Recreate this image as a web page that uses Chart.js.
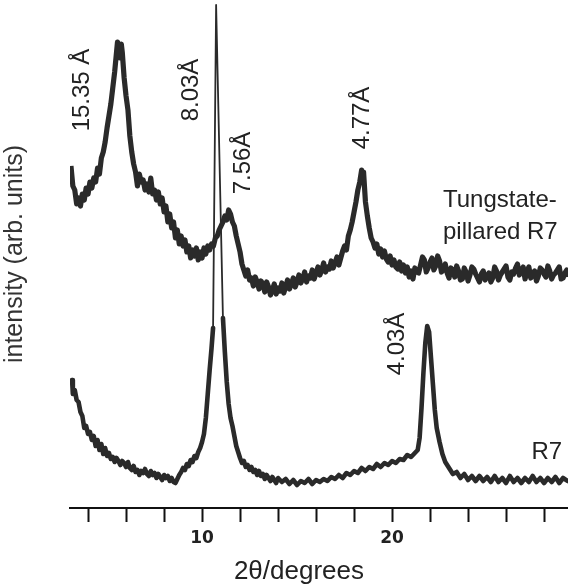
<!DOCTYPE html>
<html>
<head>
<meta charset="utf-8">
<script src="https://cdn.jsdelivr.net/npm/chart.js@4.4.0/dist/chart.umd.min.js"></script>
<style>
  html, body { margin: 0; padding: 0; background: #fff; }
  #wrap { width: 568px; height: 586px; }
</style>
</head>
<body>
<div id="wrap"><canvas id="xrd" width="568" height="586"></canvas></div>
<script>
// 2theta range shown on the axis (degrees)
const X_MIN = 3.05;
const X_MAX = 29.26;
const TICK_VALUES = [4, 6, 8, 10, 12, 14, 16, 18, 20, 22, 24, 26, 28];
const TICK_LABELED = [10, 20];

// Tungstate-pillared R7 (upper trace), intensity in arb. units
const tpAngle = [3.1, 3.2, 3.3, 3.4, 3.5, 3.6, 3.7, 3.8, 3.9, 4.0, 4.1, 4.2, 4.3, 4.4, 4.5, 4.6, 4.7, 4.8, 4.9, 5.0,
  5.1, 5.2, 5.3, 5.4, 5.5, 5.55, 5.6, 5.7, 5.75, 5.8, 5.9, 6.0, 6.1, 6.2, 6.3, 6.4, 6.5, 6.6, 6.7, 6.8,
  6.9, 7.0, 7.1, 7.2, 7.3, 7.4, 7.5, 7.6, 7.7, 7.8, 7.9, 8.0, 8.1, 8.2, 8.3, 8.4, 8.5, 8.6, 8.7, 8.8,
  8.9, 9.0, 9.1, 9.2, 9.3, 9.4, 9.5, 9.6, 9.7, 9.8, 9.9, 10.0, 10.1, 10.2, 10.3, 10.4, 10.5, 10.6, 10.7, 10.8,
  10.9, 11.0, 11.1, 11.2, 11.3, 11.4, 11.5, 11.6, 11.7, 11.8, 11.9, 12.0, 12.1, 12.2, 12.3, 12.4, 12.5, 12.6, 12.7, 12.8,
  12.9, 13.0, 13.1, 13.2, 13.3, 13.4, 13.5, 13.6, 13.7, 13.8, 13.9, 14.0, 14.1, 14.2, 14.3, 14.4, 14.5, 14.6, 14.7, 14.8,
  14.9, 15.0, 15.1, 15.2, 15.3, 15.4, 15.5, 15.6, 15.7, 15.8, 15.9, 16.0, 16.1, 16.2, 16.3, 16.4, 16.5, 16.6, 16.7, 16.8,
  16.9, 17.0, 17.1, 17.2, 17.3, 17.4, 17.5, 17.6, 17.7, 17.8, 17.9, 18.0, 18.1, 18.2, 18.3, 18.4, 18.45, 18.5, 18.6, 18.7,
  18.8, 18.9, 19.0, 19.1, 19.2, 19.3, 19.4, 19.5, 19.6, 19.7, 19.8, 19.9, 20.0, 20.1, 20.2, 20.3, 20.4, 20.5, 20.6, 20.7,
  20.8, 20.9, 21.0, 21.1, 21.2, 21.3, 21.4, 21.5, 21.6, 21.7, 21.8, 21.9, 22.0, 22.1, 22.2, 22.3, 22.4, 22.5, 22.6, 22.7,
  22.8, 22.9, 23.0, 23.1, 23.2, 23.3, 23.4, 23.5, 23.6, 23.7, 23.8, 23.9, 24.0, 24.1, 24.2, 24.3, 24.4, 24.5, 24.6, 24.7,
  24.8, 24.9, 25.0, 25.1, 25.2, 25.3, 25.4, 25.5, 25.6, 25.7, 25.8, 25.9, 26.0, 26.1, 26.2, 26.3, 26.4, 26.5, 26.6, 26.7,
  26.8, 26.9, 27.0, 27.1, 27.2, 27.3, 27.4, 27.5, 27.6, 27.7, 27.8, 27.9, 28.0, 28.1, 28.2, 28.3, 28.4, 28.5, 28.6, 28.7,
  28.8, 28.9, 29.0, 29.1, 29.2, 29.25];
const tpIntensity = [342, 322, 318, 304, 310, 302, 314, 308, 320, 314, 326, 320, 330, 326, 340, 334, 350, 356, 366, 380,
  392, 404, 420, 436, 456, 466, 462, 450, 464, 456, 430, 412, 398, 372, 356, 344, 336, 322, 334, 326,
  328, 318, 324, 316, 330, 314, 318, 308, 316, 304, 310, 296, 302, 286, 294, 280, 286, 270, 278, 264,
  272, 262, 268, 256, 262, 250, 258, 252, 260, 248, 256, 250, 260, 254, 262, 258, 264, 262, 270, 272,
  278, 282, 286, 292, 288, 298, 294, 286, 282, 272, 264, 256, 244, 238, 232, 238, 228, 230, 222, 231,
  226, 219, 227, 224, 216, 226, 221, 213, 218, 224, 214, 220, 217, 225, 215, 221, 228, 219, 224, 230,
  221, 226, 233, 225, 229, 236, 226, 232, 230, 238, 229, 235, 241, 233, 238, 245, 236, 241, 239, 247,
  240, 245, 251, 243, 250, 257, 262, 258, 272, 278, 286, 296, 306, 318, 326, 338, 330, 336, 306, 292,
  280, 270, 266, 260, 264, 254, 259, 251, 257, 249, 246, 252, 243, 248, 241, 239, 246, 237, 243, 235,
  241, 231, 237, 229, 240, 236, 235, 243, 251, 248, 236, 240, 246, 250, 238, 242, 252, 247, 236, 238,
  244, 235, 230, 240, 238, 231, 242, 237, 228, 229, 240, 236, 227, 233, 241, 239, 234, 230, 226, 234,
  237, 228, 232, 235, 226, 230, 241, 237, 228, 233, 236, 239, 242, 231, 228, 236, 234, 240, 244, 233,
  237, 241, 229, 236, 241, 230, 235, 237, 227, 232, 240, 238, 234, 231, 242, 237, 229, 233, 235, 238,
  241, 229, 230, 235, 238, 231];

// R7 (lower trace)
const r7Angle = [3.16, 3.2, 3.3, 3.4, 3.5, 3.6, 3.7, 3.8, 3.9, 4.0, 4.1, 4.2, 4.3, 4.4, 4.5, 4.6, 4.7, 4.8, 4.9, 5.0,
  5.1, 5.2, 5.3, 5.4, 5.5, 5.6, 5.7, 5.8, 5.9, 6.0, 6.1, 6.2, 6.3, 6.4, 6.5, 6.6, 6.7, 6.8, 6.9, 7.0,
  7.1, 7.2, 7.3, 7.4, 7.5, 7.6, 7.7, 7.8, 7.9, 8.0, 8.1, 8.2, 8.3, 8.4, 8.5, 8.6, 8.7, 8.8, 8.9, 9.0,
  9.1, 9.2, 9.3, 9.4, 9.5, 9.6, 9.7, 9.8, 9.9, 10.0, 10.1, 10.2, 10.3, 10.4, 10.5, 10.58, 10.74, 11.1, 11.2, 11.3,
  11.4, 11.5, 11.6, 11.7, 11.8, 11.9, 12.0, 12.1, 12.2, 12.3, 12.4, 12.5, 12.6, 12.7, 12.8, 12.9, 13.0, 13.1, 13.2, 13.3,
  13.4, 13.5, 13.6, 13.7, 13.8, 13.9, 14.0, 14.2, 14.4, 14.6, 14.8, 15.0, 15.2, 15.4, 15.6, 15.8, 16.0, 16.2, 16.4, 16.6,
  16.8, 17.0, 17.2, 17.4, 17.6, 17.8, 18.0, 18.2, 18.4, 18.6, 18.8, 19.0, 19.2, 19.4, 19.6, 19.8, 20.0, 20.2, 20.4, 20.6,
  20.8, 21.0, 21.2, 21.35, 21.45, 21.55, 21.65, 21.75, 21.85, 21.95, 22.05, 22.15, 22.25, 22.35, 22.5, 22.65, 22.8, 23.0, 23.2, 23.4,
  23.6, 23.8, 24.0, 24.2, 24.4, 24.6, 24.8, 25.0, 25.2, 25.4, 25.6, 25.8, 26.0, 26.2, 26.4, 26.6, 26.8, 27.0, 27.2, 27.4,
  27.6, 27.8, 28.0, 28.2, 28.4, 28.6, 28.8, 29.0, 29.25];
const r7Intensity = [128, 114, 118, 108, 106, 96, 92, 80, 82, 74, 76, 68, 72, 62, 68, 58, 64, 54, 60, 52,
  55, 49, 51, 46, 50, 47, 43, 47, 45, 41, 46, 40, 38, 42, 36, 38, 33, 37, 35, 39,
  34, 32, 37, 33, 35, 30, 34, 31, 28, 33, 30, 32, 27, 30, 26, 25, 29, 33, 36, 40,
  38, 44, 42, 48, 46, 52, 50, 56, 60, 66, 74, 90, 114, 138, 160, 180, 503, 190, 156, 126,
  104, 90, 82, 72, 62, 56, 50, 45, 47, 41, 43, 38, 41, 36, 38, 33, 37, 32, 34, 29,
  33, 30, 27, 31, 28, 25, 30, 26, 29, 24, 28, 23, 27, 25, 29, 24, 28, 26, 29, 27,
  31, 29, 33, 30, 35, 33, 37, 35, 40, 37, 41, 39, 44, 41, 45, 43, 47, 45, 49, 48,
  53, 51, 55, 58, 70, 100, 135, 165, 182, 176, 150, 124, 98, 80, 66, 54, 46, 40, 34, 36,
  30, 34, 28, 32, 27, 32, 27, 31, 26, 32, 26, 30, 25, 32, 26, 30, 25, 30, 26, 32,
  26, 30, 25, 30, 26, 31, 25, 30, 27];

// peak annotations (d-spacings), anchored in data coordinates
const peakText = ['15.35 Å', '8.03Å', '7.56Å', '4.77Å', '4.03Å'];
const peakAngle = [3.68, 9.42, 12.16, 18.42, 20.26];
const peakLevel = [418, 418, 345, 390, 164];

const traceNames = ['Tungstate-pillared R7', 'R7'];

const INK = '#2a2a2a';
const TEXT_FONT = '"Liberation Sans", Arial, sans-serif';

function toPoints(xs, ys) {
  return xs.map((x, i) => ({ x: x, y: ys[i] }));
}

// thin strokes on the steep flanks of the sharp 8.03 Å reflection
const spikeWidth = ctx => (Math.abs(ctx.p1.parsed.y - ctx.p0.parsed.y) > 150 ? 1.8 : 4.6);

const labelPlugin = {
  id: 'labels',
  afterDraw(chart) {
    const ctx = chart.ctx;
    const xs = chart.scales.x, ys = chart.scales.y;
    ctx.save();
    ctx.fillStyle = '#222';
    ctx.font = '24px ' + TEXT_FONT;
    ctx.textAlign = 'center';
    ctx.textBaseline = 'middle';
    peakText.forEach((t, i) => {
      ctx.save();
      ctx.translate(xs.getPixelForValue(peakAngle[i]), ys.getPixelForValue(peakLevel[i]));
      ctx.rotate(-Math.PI / 2);
      ctx.fillText(t, 0, 0);
      ctx.restore();
    });
    // trace names
    ctx.textAlign = 'left';
    ctx.fillText('Tungstate-', xs.getPixelForValue(22.68), ys.getPixelForValue(308));
    ctx.fillText('pillared R7', xs.getPixelForValue(22.68), ys.getPixelForValue(276));
    ctx.textAlign = 'right';
    ctx.fillText('R7', xs.getPixelForValue(28.95), ys.getPixelForValue(56));
    // x axis title
    ctx.textAlign = 'center';
    ctx.font = '26px ' + TEXT_FONT;
    ctx.fillText('2θ/degrees', xs.getPixelForValue(15.1), 572);
    ctx.restore();
  }
};

new Chart(document.getElementById('xrd'), {
  type: 'line',
  data: {
    datasets: [
      {
        label: traceNames[0],
        data: toPoints(tpAngle, tpIntensity),
        borderColor: INK,
        borderWidth: 5.2,
        borderJoinStyle: 'round',
        pointRadius: 0,
        tension: 0
      },
      {
        label: traceNames[1],
        data: toPoints(r7Angle, r7Intensity),
        borderColor: INK,
        borderWidth: 4.6,
        borderJoinStyle: 'round',
        borderCapStyle: 'round',
        pointRadius: 0,
        tension: 0,
        segment: { borderWidth: spikeWidth }
      }
    ]
  },
  options: {
    responsive: false,
    animation: false,
    devicePixelRatio: 1,
    layout: { padding: 0 },
    plugins: {
      legend: { display: false },
      tooltip: { enabled: false }
    },
    scales: {
      x: {
        type: 'linear',
        min: X_MIN,
        max: X_MAX,
        afterBuildTicks: s => { s.ticks = TICK_VALUES.map(v => ({ value: v })); },
        afterFit: s => { s.height = 78; },
        border: { display: true, color: '#111', width: 2 },
        grid: { drawOnChartArea: false, drawTicks: true, tickLength: 14, tickWidth: 2, tickColor: '#111' },
        ticks: {
          color: '#222',
          padding: 6,
          maxRotation: 0,
          autoSkip: false,
          font: { family: '"DejaVu Sans"', weight: 'bold', size: 17 },
          callback: v => (TICK_LABELED.includes(v) ? String(v) : '')
        }
      },
      y: {
        min: 0,
        max: 508,
        afterFit: s => { s.width = 70; },
        border: { display: false },
        grid: { display: false },
        ticks: { display: false },
        title: {
          display: true,
          text: 'intensity (arb. units)',
          color: '#333',
          font: { family: TEXT_FONT, size: 25 },
          padding: { top: 0, bottom: 8 }
        }
      }
    }
  },
  plugins: [labelPlugin]
});
</script>
</body>
</html>
